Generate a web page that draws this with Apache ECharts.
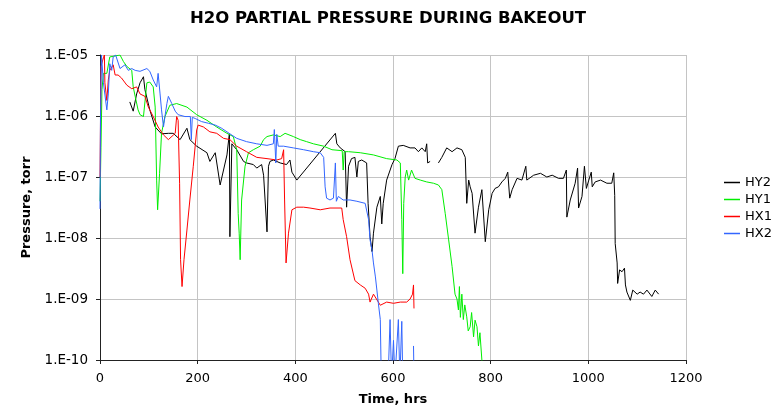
<!DOCTYPE html>
<html>
<head>
<meta charset="utf-8">
<script src="https://cdn.jsdelivr.net/npm/echarts@6/dist/echarts.min.js"></script>
<style>
  html, body { margin: 0; padding: 0; background: #fff; }
  #chart { width: 776px; height: 407px; }
</style>
</head>
<body>
<div id="chart"></div>
<script>
// series values [hours, torr]
var hy2 = [
    [61, 1.7e-6], [68, 1.2e-6], [75, 2.3e-6], [82, 3.5e-6], [89, 4.4e-6], [92, 2.7e-6], [102, 1.26e-6],
    [113, 6.6e-7], [126, 5.1e-7], [140, 5.2e-7], [150, 5.2e-7], [164, 4.1e-7], [178, 6.3e-7], [184, 4.1e-7],
    [198, 3.2e-7], [219, 2.5e-7], [225, 1.8e-7], [236, 2.5e-7], [246, 7.4e-8], [260, 2.3e-7], [265, 5.2e-7],
    [266, 1.05e-8], [270, 3.5e-7], [280, 2.8e-7], [294, 1.8e-7], [300, 1.7e-7], [314, 1.6e-7], [321, 1.4e-7],
    [331, 1.6e-7], [335, 1.07e-7], [342, 1.26e-8], [345, 1.5e-7], [348, 1.8e-7], [355, 1.9e-7], [369, 1.7e-7],
    [382, 1.6e-7], [389, 1.9e-7], [393, 1.2e-7], [403, 8.9e-8], [482, 5.2e-7], [485, 3.5e-7], [492, 3.0e-7],
    [502, 2.6e-7], [505, 3.2e-8], [509, 1.5e-7], [515, 2.0e-7], [522, 2.1e-7], [526, 1.0e-7], [529, 1.8e-7],
    [536, 1.9e-7], [546, 1.7e-7], [549, 3.7e-8], [553, 1.05e-8], [557, 6.0e-9], [560, 1.2e-8], [567, 3.2e-8],
    [574, 4.8e-8], [577, 1.7e-8], [580, 3.7e-8], [587, 8.9e-8], [598, 1.6e-7], [604, 2.0e-7], [611, 3.2e-7],
    [621, 3.3e-7], [635, 3.0e-7], [645, 3.0e-7], [652, 2.6e-7], [659, 3.0e-7], [666, 2.6e-7], [669, 3.5e-7],
    [671, 1.7e-7], [676, 1.8e-7], [684, '-'], [693, 1.7e-7], [700, 2.1e-7], [710, 3.0e-7], [721, 2.6e-7],
    [731, 3.0e-7], [741, 2.8e-7], [748, 2.1e-7], [751, 3.7e-8], [755, 8.9e-8], [758, 6.9e-8], [762, 5.4e-8],
    [768, 1.2e-8], [775, 3.2e-8], [782, 6.2e-8], [785, 6.5e-8], [789, 8.7e-9], [796, 2.9e-8], [803, 5.4e-8],
    [809, 6.5e-8], [816, 6.9e-8], [823, 8.3e-8], [830, 9.5e-8], [835, 1.2e-7], [839, 4.5e-8], [844, 6.2e-8],
    [854, 9.5e-8], [864, 8.9e-8], [872, 1.5e-7], [874, 8.9e-8], [888, 1.07e-7], [902, 1.15e-7], [915, 1.0e-7],
    [926, 1.07e-7], [939, 9.5e-8], [949, 9.5e-8], [955, 1.3e-7], [956, 2.2e-8], [963, 4.2e-8], [973, 7.9e-8],
    [978, 1.4e-7], [980, 3.1e-8], [987, 4.8e-8], [992, 1.5e-7], [996, 6.5e-8], [1001, 8.9e-8], [1006, 1.2e-7],
    [1008, 6.9e-8], [1014, 8.3e-8], [1025, 8.9e-8], [1038, 7.9e-8], [1048, 7.9e-8], [1052, 1.17e-7],
    [1054, 5.0e-8], [1055, 8.1e-9], [1059, 3.9e-9], [1060, 1.8e-9], [1064, 3.0e-9], [1069, 2.8e-9],
    [1074, 3.2e-9], [1076, 1.7e-9], [1079, 1.3e-9], [1086, 9.5e-10], [1091, 1.4e-9], [1100, 1.2e-9],
    [1106, 1.3e-9], [1113, 1.2e-9], [1120, 1.4e-9], [1130, 1.1e-9], [1137, 1.4e-9], [1144, 1.2e-9]
];

var hy1 = [
    [0, 4e-8], [2, 3e-7], [4, 2.7e-6], [7, 5e-6], [14, 5e-6], [20, 9.3e-6], [24, 1e-5], [41, 1e-5],
    [48, 7.8e-6], [55, 6.5e-6], [65, 5.6e-6], [68, 3.0e-6], [72, 2.1e-6], [78, 1.26e-6], [82, 1.05e-6],
    [89, 9.8e-7], [96, 3.5e-6], [102, 3.6e-6], [109, 3.0e-6], [113, 1.4e-6], [116, 8.9e-8], [118, 2.9e-8],
    [122, 1.15e-7], [126, 5.2e-7], [133, 9.8e-7], [143, 1.5e-6], [157, 1.6e-6], [178, 1.4e-6], [198, 1.05e-6],
    [219, 8.5e-7], [239, 6.6e-7], [260, 5.2e-7], [273, 4.6e-7], [280, 2.8e-7], [283, 2.5e-8], [285, 1.2e-8],
    [287, 4.4e-9], [290, 4.2e-8], [297, 1.5e-7], [304, 2.5e-7], [314, 2.8e-7], [328, 3.2e-7], [335, 4.1e-7],
    [342, 4.6e-7], [355, 4.9e-7], [369, 4.6e-7], [379, 5.2e-7], [396, 4.6e-7], [410, 4.1e-7], [423, 3.8e-7],
    [437, 3.5e-7], [458, 3.2e-7], [475, 2.8e-7], [496, 2.7e-7], [498, 1.3e-7], [500, 2.6e-7], [509, 2.6e-7],
    [533, 2.5e-7], [560, 2.3e-7], [587, 2.0e-7], [608, 1.9e-7], [615, 1.7e-7], [618, 2.0e-8], [620, 2.6e-9],
    [622, 3.7e-8], [625, 1.0e-7], [628, 1.3e-7], [632, 8.9e-8], [638, 1.3e-7], [645, 9.5e-8], [656, 8.9e-8],
    [669, 8.3e-8], [683, 7.9e-8], [693, 7.4e-8], [700, 6.2e-8], [707, 2.5e-8], [714, 9.3e-9], [721, 3.4e-9],
    [727, 1.2e-9], [731, 1.0e-9], [734, 6.6e-10], [736, 1.6e-9], [738, 5e-10], [741, 1.2e-9], [744, 4.6e-10],
    [747, 8e-10], [751, 5.1e-10], [754, 3e-10], [758, 3.5e-10], [761, 6e-10], [765, 2.4e-10], [768, 4.5e-10],
    [772, 3.5e-10], [775, 1.7e-10], [778, 2.8e-10], [782, 1e-10], [785, 5e-11]
];

var hx1 = [
    [0, 1e-7], [2, 6.5e-6], [7, 9e-6], [9, 1e-5], [10, 3.5e-6], [14, 1.8e-6], [17, 3.9e-6], [20, 5.6e-6],
    [27, 6.9e-6], [31, 4.7e-6], [37, 4.7e-6], [44, 4.2e-6], [55, 3.2e-6], [65, 2.8e-6], [75, 3.0e-6],
    [82, 2.3e-6], [92, 2.1e-6], [99, 1.4e-6], [109, 9.8e-7], [119, 6.6e-7], [130, 4.9e-7], [140, 4.1e-7],
    [154, 5.2e-7], [157, 9.8e-7], [160, 8.5e-7], [163, 7.9e-8], [165, 4.4e-9], [168, 1.6e-9], [172, 4.4e-9],
    [178, 1.35e-8], [184, 4.2e-8], [191, 1.5e-7], [198, 5.9e-7], [201, 7.1e-7], [212, 6.6e-7], [225, 5.5e-7],
    [239, 5.2e-7], [253, 4.3e-7], [266, 4.1e-7], [280, 3.2e-7], [300, 2.6e-7], [321, 2.1e-7], [342, 2.0e-7],
    [362, 1.9e-7], [372, 2.0e-7], [376, 2.8e-7], [378, 4.2e-8], [381, 3.9e-9], [386, 1.2e-8], [393, 2.9e-8],
    [403, 3.2e-8], [417, 3.2e-8], [430, 3.1e-8], [451, 2.9e-8], [471, 3.1e-8], [495, 3.1e-8], [498, 2.0e-8],
    [505, 1.05e-8], [512, 4.4e-9], [522, 2.0e-9], [533, 1.7e-9], [543, 1.5e-9], [550, 1.2e-9], [553, 8.9e-10],
    [560, 1.2e-9], [570, 8.9e-10], [574, 7.9e-10], [587, 8.9e-10], [601, 8.5e-10], [615, 8.9e-10],
    [628, 8.9e-10], [635, 1.0e-9], [640, 1.2e-9], [642, 1.7e-9], [643, 7e-10]
];

var hx2 = [
    [0, 3e-8], [1, 1e-6], [3, 1e-5], [7, 3.5e-6], [14, 1.26e-6], [17, 2.3e-6], [20, 7.2e-6], [24, 5.6e-6],
    [27, 9.3e-6], [32, 1e-5], [36, 1e-5], [41, 6e-6], [51, 6.9e-6], [58, 5.6e-6], [65, 6.0e-6], [72, 5.6e-6],
    [82, 5.4e-6], [96, 6.0e-6], [102, 5.4e-6], [109, 3.9e-6], [116, 3.0e-6], [119, 5.0e-6], [123, 2.3e-6],
    [126, 1.26e-6], [130, 6.6e-7], [133, 9.8e-7], [137, 1.6e-6], [140, 2.1e-6], [147, 1.6e-6], [154, 1.2e-6],
    [160, 1.05e-6], [174, 9.8e-7], [185, 9.8e-7], [187, 4.1e-7], [189, 9.5e-7], [195, 9.1e-7], [208, 8.1e-7],
    [222, 7.6e-7], [236, 7.1e-7], [249, 6.3e-7], [260, 5.5e-7], [280, 4.3e-7], [300, 3.8e-7], [321, 3.5e-7],
    [342, 3.3e-7], [355, 3.5e-7], [357, 6e-7], [360, 1.7e-7], [362, 5e-7], [365, 3.2e-7], [376, 3.2e-7],
    [396, 3.0e-7], [417, 2.8e-7], [437, 2.6e-7], [451, 2.5e-7], [458, 2.1e-7], [461, 6.9e-8], [464, 4.5e-8],
    [471, 4.2e-8], [478, 4.5e-8], [482, 1.7e-7], [484, 4.0e-8], [488, 4.8e-8], [498, 4.2e-8], [512, 4.2e-8],
    [526, 4.0e-8], [543, 3.7e-8], [546, 3.5e-8], [550, 2.0e-8], [553, 9.3e-9], [557, 6.3e-9], [560, 3.9e-9],
    [564, 2.3e-9], [567, 1.4e-9], [570, 8.5e-10], [574, 4.6e-10], [576, 5e-11], [590, 5e-11], [594, 4.6e-10],
    [597, 5e-11], [601, 2.1e-10], [604, 5e-11], [611, 4.6e-10], [614, 5e-11], [618, 4.3e-10], [620, 5e-11],
    [641, '-'], [642, 1.7e-10], [643, 5e-11]
];

var seriesNames = ['HY2', 'HY1', 'HX1', 'HX2'];
var seriesColors = ['#000000', '#00ee00', '#ff0000', '#3366ff'];

function yLabel(v) {
    var e = Math.round(Math.log10(v));
    return '1.E' + (e < 0 ? '-' : '+') + String(Math.abs(e)).padStart(2, '0');
}

var chart = echarts.init(document.getElementById('chart'));

var option = {
    animation: false,
    backgroundColor: '#fff',
    title: {
        text: 'H2O PARTIAL PRESSURE DURING BAKEOUT',
        left: 'center',
        top: 5,
        textStyle: { fontFamily: 'DejaVu Sans', fontSize: 16.5, fontWeight: 'bold', color: '#000' }
    },
    legend: {
        orient: 'vertical',
        left: 719,
        top: 171,
        icon: 'rect',
        itemWidth: 16,
        itemHeight: 1.5,
        itemGap: 4,
        textStyle: { fontFamily: 'DejaVu Sans', fontSize: 13, color: '#000' },
        data: seriesNames
    },
    grid: { left: 100, right: 90, top: 55, bottom: 47, outerBoundsMode: 'none' },
    xAxis: {
        type: 'value',
        min: 0,
        max: 1200,
        interval: 200,
        name: 'Time, hrs',
        nameLocation: 'middle',
        nameGap: 33,
        nameTextStyle: { fontFamily: 'DejaVu Sans', fontSize: 13, fontWeight: 'bold', color: '#000' },
        axisLine: { lineStyle: { color: '#222', width: 1 } },
        axisTick: { length: 4, lineStyle: { color: '#222' } },
        axisLabel: {
            margin: 12, fontFamily: 'DejaVu Sans', fontSize: 13, color: '#000',
            formatter: function (v) { return String(v); }
        },
        splitLine: { lineStyle: { color: '#c4c4c4', width: 1 } }
    },
    yAxis: {
        type: 'log',
        logBase: 10,
        min: 1e-10,
        max: 1e-5,
        name: 'Pressure, torr',
        nameLocation: 'middle',
        nameGap: 67,
        nameTextStyle: { fontFamily: 'DejaVu Sans', fontSize: 13, fontWeight: 'bold', color: '#000' },
        axisLine: { show: true, lineStyle: { color: '#222', width: 1 } },
        axisTick: { show: true, length: 4, lineStyle: { color: '#222' } },
        axisLabel: { margin: 12, fontFamily: 'DejaVu Sans', fontSize: 13.5, color: '#000', formatter: yLabel },
        splitLine: { lineStyle: { color: '#c4c4c4', width: 1 } }
    },
    series: [hy2, hy1, hx1, hx2].map(function (d, i) {
        return {
            name: seriesNames[i],
            type: 'line',
            data: d,
            symbol: 'none',
            color: seriesColors[i],
            lineStyle: { width: 1, color: seriesColors[i] },
            connectNulls: false,
            clip: true
        };
    })
};
chart.setOption(option);
</script>
</body>
</html>
